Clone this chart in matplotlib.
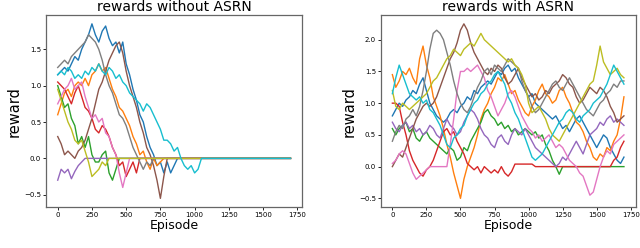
import numpy as np
import matplotlib
matplotlib.use("Agg")
import matplotlib.pyplot as plt

STEP = 25
END = 1700

# rewards without ASRN (episodes 0, 25, 50, ... until the run stops; 0 afterwards)
wo_blue = [1.15, 1.2, 1.25, 1.2, 1.3, 1.4, 1.35, 1.5, 1.6, 1.7, 1.85, 1.7, 1.6, 1.75, 1.82, 1.65,
           1.55, 1.6, 1.45, 1.6, 1.3, 1.15, 0.95, 0.8, 0.6, 0.5, 0.3, 0.15, 0.05, -0.1, -0.05, -0.2,
           -0.05, -0.2, -0.1, 0.0]
wo_orange = [0.6, 0.75, 0.9, 0.95, 0.85, 1.0, 1.05, 1.0, 1.1, 1.0, 1.15, 1.2, 1.3, 1.2, 1.25, 1.1,
             0.95, 0.85, 0.7, 0.65, 0.55, 0.45, 0.3, 0.2, 0.05, 0.1, -0.05, -0.15, 0.0, -0.1, -0.05, 0.0]
wo_green = [1.0, 0.85, 0.7, 0.75, 0.55, 0.45, 0.2, 0.3, 0.15, 0.3, 0.05, -0.05, -0.05, 0.05, 0.1,
            -0.2, -0.3, -0.15, 0.0]
wo_red = [1.05, 1.0, 0.95, 0.85, 0.75, 0.9, 1.0, 0.85, 0.7, 0.65, 0.55, 0.4, 0.35, 0.45, 0.4, 0.3,
          0.15, 0.05, -0.1, -0.05, -0.25, -0.15, -0.05, -0.2, 0.0]
wo_purple = [-0.3, -0.15, -0.2, -0.15, -0.28, -0.18, -0.1, -0.05, 0.0]
wo_brown = [0.3, 0.2, 0.05, 0.1, 0.05, 0.0, 0.1, 0.15, 0.25, 0.4, 0.55, 0.75, 0.95, 1.05, 1.2, 1.35,
            1.45, 1.55, 1.6, 1.45, 1.2, 1.0, 0.85, 0.7, 0.5, 0.35, 0.15, 0.05, -0.1, -0.3, -0.55,
            -0.25, 0.0]
wo_pink = [0.75, 0.85, 0.95, 1.0, 1.1, 0.95, 1.0, 1.05, 0.85, 0.7, 0.55, 0.6, 0.5, 0.55, 0.35, 0.3,
           0.15, 0.05, -0.2, -0.4, -0.2, 0.0]
wo_gray = [1.25, 1.3, 1.35, 1.3, 1.4, 1.45, 1.5, 1.55, 1.6, 1.7, 1.65, 1.6, 1.5, 1.35, 1.15, 1.0,
           0.9, 0.75, 0.6, 0.55, 0.45, 0.3, 0.15, 0.05, -0.05, -0.15, -0.05, -0.1, 0.0]
wo_olive = [0.95, 0.8, 0.65, 0.5, 0.4, 0.25, 0.2, 0.25, 0.1, -0.05, -0.25, -0.2, -0.15, -0.05, -0.1, 0.0]
wo_cyan = [1.15, 1.2, 1.15, 1.25, 1.2, 1.1, 1.15, 1.1, 1.2, 1.15, 1.25, 1.2, 1.3, 1.2, 1.15, 1.25,
           1.2, 1.1, 1.15, 1.05, 1.0, 0.9, 0.85, 0.8, 0.75, 0.65, 0.75, 0.7, 0.6, 0.5, 0.4, 0.25,
           0.25, 0.2, 0.1, 0.15, 0.0, -0.1, -0.15, -0.1, -0.2, -0.15, 0.0]

# rewards with ASRN (episodes 0, 25, ..., 1700)
w_blue = [0.8, 0.9, 1.0, 0.95, 1.05, 1.1, 1.2, 1.15, 1.3, 1.4, 1.2, 1.0, 0.9, 0.8, 0.75, 0.7,
          0.75, 0.85, 0.9, 0.85, 0.95, 1.0, 1.1, 1.05, 1.2, 1.15, 1.25, 1.3, 1.35, 1.3, 1.4, 1.5,
          1.45, 1.55, 1.6, 1.5, 1.55, 1.4, 1.3, 1.2, 1.1, 1.15, 1.0, 0.95, 0.9, 0.85, 0.8, 0.75,
          0.8, 0.7, 0.6, 0.65, 0.55, 0.65, 0.75, 0.8, 0.7, 0.6, 0.5, 0.4, 0.3, 0.4, 0.5, 0.45,
          0.3, 0.2, 0.1, 0.05, 0.15]
w_orange = [1.45, 1.25, 1.35, 1.5, 1.45, 1.55, 1.4, 1.3, 1.7, 1.9, 1.6, 1.4, 1.1, 0.95, 0.8, 0.6,
            0.35, 0.15, -0.1, -0.3, -0.5, -0.2, 0.0, 0.15, 0.3, 0.5, 0.75, 0.9, 1.0, 1.15, 1.25, 1.4,
            1.35, 1.45, 1.3, 1.15, 1.2, 1.05, 0.95, 0.85, 0.8, 0.95, 1.05, 1.2, 1.3, 1.15, 1.1, 1.0,
            1.05, 1.2, 1.25, 1.1, 1.0, 0.85, 0.7, 0.65, 0.55, 0.4, 0.3, 0.15, 0.1, 0.2, 0.15, 0.3,
            0.25, 0.4, 0.5, 0.75, 1.1]
w_green = [0.6, 0.5, 0.6, 0.65, 0.7, 0.55, 0.6, 0.45, 0.4, 0.5, 0.55, 0.45, 0.4, 0.35, 0.3, 0.25,
           0.2, 0.3, 0.25, 0.1, 0.15, 0.3, 0.25, 0.4, 0.5, 0.6, 0.7, 0.85, 0.9, 0.8, 0.75, 0.65,
           0.7, 0.6, 0.65, 0.55, 0.6, 0.5, 0.55, 0.6, 0.55, 0.5, 0.55, 0.45, 0.5, 0.35, 0.25, 0.1,
           0.0, -0.12, 0.0, 0.0, 0.0, 0.0, 0.0, 0.0, 0.0, 0.0, 0.0, 0.0, 0.0, 0.0, 0.0, 0.0,
           0.0, 0.0, 0.0, 0.0, 0.0]
w_red = [1.0, 1.0, 0.95, 0.7, 0.5, 0.25, 0.1, 0.0, -0.1, -0.15, -0.05, 0.0, 0.1, 0.25, 0.4, 0.55,
         0.6, 0.5, 0.55, 0.4, 0.3, 0.2, 0.05, 0.0, -0.05, 0.0, -0.1, 0.0, -0.05, -0.1, -0.05, -0.1,
         0.0, -0.1, -0.15, -0.08, 0.04, 0.04, 0.04, 0.04, 0.04, 0.04, 0.0, 0.0, 0.0, 0.0, 0.0, 0.0,
         0.0, 0.0, 0.0, 0.0, 0.0, 0.0, 0.0, 0.0, 0.0, 0.0, 0.0, 0.0, 0.0, 0.0, 0.0, 0.0,
         0.0, 0.1, 0.15, 0.3, 0.4]
w_purple = [0.7, 0.6, 0.55, 0.65, 0.7, 0.6, 0.65, 0.55, 0.6, 0.5, 0.55, 0.65, 0.6, 0.5, 0.45, 0.6,
            0.75, 0.65, 0.6, 0.5, 0.55, 0.7, 0.8, 0.9, 0.85, 0.75, 0.6, 0.5, 0.45, 0.35, 0.3, 0.45,
            0.5, 0.4, 0.35, 0.5, 0.6, 0.55, 0.5, 0.6, 0.5, 0.4, 0.3, 0.25, 0.2, 0.15, 0.1, 0.05,
            0.0, 0.05, 0.15, 0.1, 0.2, 0.3, 0.4, 0.3, 0.2, 0.35, 0.5, 0.55, 0.6, 0.7, 0.65, 0.75,
            0.8, 0.7, 0.75, 0.7, 0.65]
w_brown = [0.0, 0.1, 0.2, 0.15, 0.3, 0.45, 0.6, 0.75, 0.85, 0.95, 1.0, 0.95, 1.0, 1.1, 1.25, 1.4,
           1.55, 1.7, 1.8, 1.95, 2.15, 2.25, 2.15, 1.95, 1.8, 1.7, 1.6, 1.5, 1.45, 1.55, 1.5, 1.6,
           1.55, 1.4, 1.3, 1.35, 1.45, 1.55, 1.4, 1.3, 1.2, 1.1, 1.15, 1.05, 1.1, 1.2, 1.15, 1.25,
           1.3, 1.35, 1.45, 1.4, 1.3, 1.25, 1.1, 1.0, 1.05, 1.15, 1.25, 1.2, 1.15, 1.25, 1.2, 1.1,
           0.95, 0.85, 0.7, 0.75, 0.8]
w_pink = [0.05, 0.1, 0.2, 0.25, 0.2, 0.05, -0.1, -0.2, -0.15, -0.1, -0.05, 0.0, 0.0, 0.0, 0.0, 0.0,
          0.0, 0.35, 0.75, 1.2, 1.5, 1.5, 1.55, 1.5, 1.55, 1.6, 1.5, 1.4, 1.2, 1.1, 0.95, 0.8,
          0.9, 1.0, 1.15, 1.2, 1.1, 0.95, 0.8, 0.7, 0.6, 0.55, 0.45, 0.5, 0.4, 0.45, 0.5, 0.4,
          0.3, 0.35, 0.3, 0.2, 0.1, 0.05, 0.0, -0.1, -0.15, -0.3, -0.45, -0.4, -0.2, 0.0, 0.15, 0.25,
          0.2, 0.35, 0.4, 0.45, 0.5]
w_gray = [0.4, 0.55, 0.65, 0.6, 0.75, 0.8, 0.9, 0.8, 0.95, 1.2, 1.5, 1.85, 2.1, 2.15, 2.1, 2.0,
          1.8, 1.6, 1.35, 1.15, 1.0, 0.9, 0.85, 0.95, 1.1, 1.25, 1.35, 1.5, 1.55, 1.45, 1.6, 1.55,
          1.5, 1.6, 1.7, 1.65, 1.6, 1.55, 1.35, 1.2, 1.1, 0.95, 0.85, 0.9, 1.0, 1.1, 1.2, 1.3,
          1.35, 1.25, 1.2, 1.3, 1.4, 1.3, 1.2, 1.1, 1.0, 0.9, 0.85, 0.8, 0.9, 1.0, 1.05, 1.15,
          1.2, 1.3, 1.25, 1.35, 1.35]
w_olive = [1.2, 0.95, 0.9, 1.0, 0.95, 0.9, 0.95, 1.0, 1.05, 1.1, 1.15, 1.25, 1.35, 1.4, 1.5, 1.6,
           1.7, 1.75, 1.85, 1.8, 1.75, 1.85, 1.9, 1.95, 1.9, 2.0, 2.1, 2.0, 1.95, 1.9, 1.85, 1.8,
           1.75, 1.7, 1.65, 1.7, 1.6, 1.55, 1.45, 1.3, 1.0, 0.85, 0.9, 0.95, 0.85, 0.75, 0.6, 0.5,
           0.45, 0.4, 0.5, 0.6, 0.7, 0.8, 0.9, 1.0, 1.1, 1.2, 1.3, 1.35, 1.6, 1.9, 1.65, 1.55,
           1.45, 1.5, 1.55, 1.45, 1.4]
w_cyan = [1.15, 1.4, 1.6, 1.45, 1.3, 1.15, 1.1, 1.05, 1.1, 1.0, 1.05, 0.9, 0.85, 0.75, 0.65, 0.5,
          0.35, 0.3, 0.45, 0.5, 0.6, 0.65, 0.8, 0.9, 1.0, 1.05, 1.15, 1.2, 1.3, 1.35, 1.45, 1.5,
          1.4, 1.3, 1.1, 1.0, 0.85, 0.75, 0.6, 0.45, 0.3, 0.15, 0.1, 0.15, 0.2, 0.3, 0.4, 0.5,
          0.6, 0.7, 0.75, 0.85, 0.9, 0.85, 0.75, 0.7, 0.8, 0.85, 0.9, 1.0, 1.05, 1.1, 1.2, 1.3,
          1.45, 1.6, 1.5, 1.4, 1.3]

without_asrn = [wo_blue, wo_orange, wo_green, wo_red, wo_purple,
                wo_brown, wo_pink, wo_gray, wo_olive, wo_cyan]
with_asrn = [w_blue, w_orange, w_green, w_red, w_purple,
             w_brown, w_pink, w_gray, w_olive, w_cyan]

episodes = np.arange(0, END + 1, STEP)

fig = plt.figure(figsize=(6.4, 2.48), dpi=100)
ax1 = fig.add_axes([0.072, 0.165, 0.4, 0.774])
ax2 = fig.add_axes([0.595, 0.165, 0.398, 0.774])


def draw(ax, runs, title):
    for r in runs:
        y = np.zeros(len(episodes))
        y[:len(r)] = r   # reward stays at 0 once the run has stopped
        ax.plot(episodes, y, lw=1.0)
    ax.set_title(title, fontsize=10, pad=3)
    ax.set_xlabel("Episode", fontsize=9, labelpad=1)
    ax.set_ylabel("reward", fontsize=10.5, labelpad=2)
    ax.set_xticks([0, 250, 500, 750, 1000, 1250, 1500, 1750])
    ax.tick_params(labelsize=5, length=2, width=0.6, pad=1.5)
    for s in ax.spines.values():
        s.set_color("0.4")
        s.set_linewidth(0.9)


draw(ax1, without_asrn, "rewards without ASRN")
draw(ax2, with_asrn, "rewards with ASRN")

fig.savefig("out.png", dpi=100)
